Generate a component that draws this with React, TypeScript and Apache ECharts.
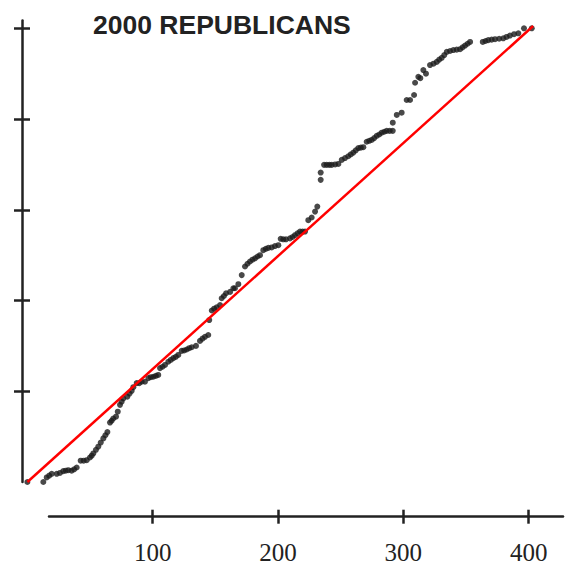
import React, { useEffect, useRef } from "react";
import * as echarts from "echarts";

const titleText = "2000 REPUBLICANS";

const pointX = [
  0, 12.7, 15.4, 17.4, 19.4, 23.4, 26.0, 28.6, 30.6, 32.6, 35.3, 37.3, 39.3, 42.5, 44.9, 47.3, 49.9, 51.3, 52.6, 54.7, 56.6, 58.5, 60.6,
  62.2, 63.8, 65.9, 67.2, 68.5, 70.7, 72.1, 73.9, 75.2, 76.5, 79.7, 81.5, 83.2, 84.5, 87.2, 89.3, 91.2, 93.8, 96.5, 98.5, 100.5, 102.5, 104.4,
  105.8, 107.8, 109.8, 112.4, 114.4, 116.4, 118.4, 120.4, 123.1, 125.1, 127.1, 129.1, 131.1, 134.5, 137.7, 139.7, 141.7, 144.3, 145.1, 147.1, 149.0, 151.0,
  153.7, 155.0, 156.8, 158.5, 161.7, 164.3, 165.6, 168.3, 171.0, 173.6, 175.6, 177.6, 179.6, 181.6, 183.6, 185.6, 188.2, 190.2, 192.2, 194.9,
  197.5, 200.2, 202.1, 204.2, 206.3, 209.5, 211.5, 213.5, 215.5, 217.5, 219.5, 221.5, 224.1, 226.8, 229.5, 231.3, 234.0, 234.0, 236.7, 238.8, 240.9,
  242.8, 245.5, 248.1, 250.8, 253.4, 256.0, 258.0, 260.0, 262.0, 264.0, 266.0, 268.0, 270.7, 272.7, 274.7, 276.7, 278.7, 280.7, 282.7, 284.7, 286.7, 289.1, 291.5, 291.5, 294.7,
  298.6, 302.6, 305.3, 308.5, 309.3, 311.9, 313.5, 315.9, 318.0, 321.2, 324.0, 326.6, 328.6, 330.6, 332.6, 334.6, 337.2, 339.8, 342.5, 345.2,
  347.2, 349.2, 351.2, 353.2, 363.3, 365.5, 367.7, 370.4, 373.1, 376.4, 379.7, 382.3, 385.0, 388.3, 391.7, 396.2, 402.4,
];

const pointY = [
  0, 0, 0.010, 0.014, 0.018, 0.018, 0.020, 0.024, 0.025, 0.026, 0.025, 0.028, 0.032, 0.047, 0.047, 0.048, 0.054, 0.058, 0.063, 0.071, 0.078, 0.087, 0.096,
  0.103, 0.110, 0.131, 0.135, 0.140, 0.144, 0.155, 0.170, 0.177, 0.184, 0.188, 0.195, 0.201, 0.209, 0.218, 0.218, 0.221, 0.221, 0.229, 0.231, 0.232, 0.234, 0.236,
  0.251, 0.254, 0.258, 0.265, 0.269, 0.273, 0.276, 0.280, 0.289, 0.290, 0.292, 0.295, 0.297, 0.300, 0.311, 0.316, 0.320, 0.324, 0.357, 0.378, 0.382, 0.385,
  0.390, 0.405, 0.410, 0.416, 0.419, 0.427, 0.427, 0.436, 0.456, 0.475, 0.481, 0.486, 0.490, 0.493, 0.497, 0.500, 0.511, 0.514, 0.516, 0.517,
  0.520, 0.522, 0.536, 0.535, 0.535, 0.537, 0.540, 0.544, 0.548, 0.552, 0.552, 0.552, 0.577, 0.583, 0.596, 0.607, 0.666, 0.682, 0.699, 0.699, 0.699,
  0.699, 0.700, 0.701, 0.710, 0.714, 0.718, 0.722, 0.726, 0.731, 0.736, 0.737, 0.738, 0.750, 0.752, 0.754, 0.758, 0.763, 0.766, 0.770, 0.772, 0.774, 0.774, 0.774, 0.792, 0.809,
  0.814, 0.842, 0.842, 0.853, 0.880, 0.893, 0.890, 0.908, 0.900, 0.919, 0.922, 0.926, 0.931, 0.935, 0.941, 0.948, 0.950, 0.952, 0.953, 0.954,
  0.958, 0.962, 0.966, 0.970, 0.970, 0.972, 0.974, 0.975, 0.976, 0.977, 0.978, 0.981, 0.984, 0.987, 0.989, 1.000, 1.000,
];

const lineX = [0, 403.5];
const lineY = [0, 1.005];

const xTicks = [100, 200, 300, 400];
const yTicks = [0.2, 0.4, 0.6, 0.8, 1.0];

export default function App() {
  const ref = useRef<HTMLDivElement>(null);
  useEffect(() => {
    if (!ref.current) return;
    const chart = echarts.init(ref.current, undefined, { renderer: "svg" });
    const ink = "#222222";
    const dot = "#1c1c1c";
    const pts = pointX.map((x, i) => [x, pointY[i]]);
    const diag = lineX.map((x, i) => [x, lineY[i]]);
    const gridBase = { top: 20.6, bottom: 88, containLabel: false };
    const tickStyle = { color: ink, width: 2.5 };
    const hiddenY = (g: number) => ({ type: "value", gridIndex: g, min: 0, max: 1.017, show: false });
    const xCommon = {
      type: "value",
      min: 17.23,
      max: 427.4,
      position: "bottom",
      offset: 34.7,
      splitLine: { show: false },
    };
    const yCommon = {
      type: "value",
      min: 0,
      max: 1.017,
      position: "left",
      offset: 5.4,
      splitLine: { show: false },
    };
    chart.setOption({
      animation: false,
      backgroundColor: "#ffffff",
      title: {
        text: titleText,
        left: 93,
        top: 11,
        padding: 0,
        textStyle: { fontFamily: "Liberation Sans", fontWeight: "bold", fontSize: 26.5, color: ink },
      },
      grid: [
        { ...gridBase, left: 27.4, right: 10.4 },
        { ...gridBase, left: 27.4, right: 10.4 },
        { ...gridBase, left: 49, right: 10 },
        { ...gridBase, left: 49, right: 10 },
      ],
      xAxis: [
        { type: "value", gridIndex: 0, min: 0, max: 427, show: false },
        { type: "value", gridIndex: 1, min: 0, max: 427, show: false },
        {
          ...xCommon,
          gridIndex: 2,
          axisLine: { show: true, onZero: false, lineStyle: tickStyle },
          axisTick: { show: true, customValues: xTicks, length: 7, lineStyle: tickStyle },
          axisLabel: {
            show: true,
            customValues: xTicks,
            margin: 23,
            fontFamily: "Liberation Serif",
            fontSize: 25,
            color: ink,
          },
        },
        {
          ...xCommon,
          gridIndex: 3,
          axisLine: { show: false, onZero: false },
          axisTick: { show: true, inside: true, customValues: xTicks, length: 7, lineStyle: tickStyle },
          axisLabel: { show: false, customValues: xTicks },
        },
      ],
      yAxis: [
        {
          ...yCommon,
          gridIndex: 0,
          axisLine: { show: true, onZero: false, lineStyle: tickStyle },
          axisTick: { show: true, customValues: yTicks, length: 8, lineStyle: tickStyle },
          axisLabel: { show: false, customValues: yTicks },
        },
        {
          ...yCommon,
          gridIndex: 1,
          axisLine: { show: false, onZero: false },
          axisTick: { show: true, inside: true, customValues: yTicks, length: 8, lineStyle: tickStyle },
          axisLabel: { show: false, customValues: yTicks },
        },
        hiddenY(2),
        hiddenY(3),
      ],
      series: [
        {
          type: "line",
          xAxisIndex: 0,
          yAxisIndex: 0,
          data: diag,
          showSymbol: false,
          symbol: "none",
          lineStyle: { color: "#ff0000", width: 2.5 },
          silent: true,
        },
        {
          type: "scatter",
          xAxisIndex: 0,
          yAxisIndex: 0,
          data: pts,
          symbol: "circle",
          symbolSize: 6,
          itemStyle: { color: dot },
          silent: true,
        },
      ],
    });
    return () => chart.dispose();
  }, []);
  return <div ref={ref} style={{ width: 573, height: 570, position: "absolute", left: 0, top: 0 }} />;
}
